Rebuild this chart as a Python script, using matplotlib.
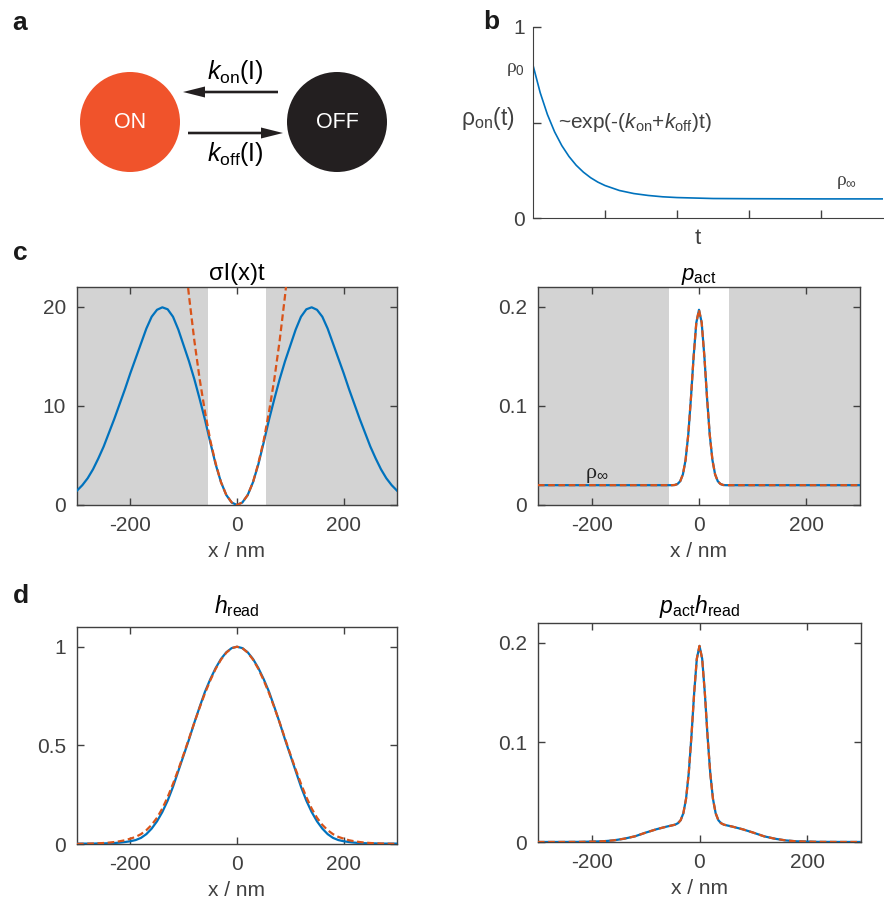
import numpy as np
import matplotlib.pyplot as plt
from matplotlib.patches import Circle

plt.rcParams['font.family'] = ['Liberation Sans', 'DejaVu Sans']
plt.rcParams['mathtext.fontset'] = 'custom'
plt.rcParams['mathtext.rm'] = 'Liberation Sans'
plt.rcParams['mathtext.it'] = 'Liberation Sans:italic'
plt.rcParams['mathtext.sf'] = 'Liberation Sans'
plt.rcParams['axes.unicode_minus'] = False

BLUE = '#0072BD'
RED = '#D95319'
SHADE = '#D3D3D3'
AXC = '#404040'
ON_COL = '#F0532B'
OFF_COL = '#231F20'

# panel b: rho_on(t)
t_b = [0, 0.1, 0.2, 0.3, 0.4, 0.5, 0.6, 0.7, 0.8, 0.9, 1.0, 1.2, 1.4, 1.6, 1.8, 2.0, 2.5, 3.0, 4.0, 4.86]
rho_b = [0.80, 0.656, 0.542, 0.451, 0.379, 0.322, 0.276, 0.240, 0.211, 0.188, 0.170,
         0.144, 0.128, 0.118, 0.111, 0.107, 0.102, 0.101, 0.100, 0.100]

# panel c left: sigma I(x) t, x = -300..300 step 10
x_c = np.arange(-300, 301, 10)
sig_I = [1.45, 2.0, 2.7, 3.6, 4.7, 5.9, 7.3, 8.7, 10.2, 11.7, 13.3, 14.8, 16.3, 17.8, 19.0,
         19.7, 19.95, 19.75, 19.0, 17.7, 16.1, 14.5, 12.7, 10.7, 8.6, 6.3, 4.1, 2.3, 1.0, 0.25,
         0,
         0.25, 1.0, 2.3, 4.1, 6.3, 8.6, 10.7, 12.7, 14.5, 16.1, 17.7, 19.0, 19.75, 19.95, 19.7,
         19.0, 17.8, 16.3, 14.8, 13.3, 11.7, 10.2, 8.7, 7.3, 5.9, 4.7, 3.6, 2.7, 2.0, 1.45]
x_par = np.arange(-100, 101, 10)
sig_I_par = [26.0, 21.1, 16.6, 12.7, 9.4, 6.5, 4.2, 2.3, 1.0, 0.26, 0,
             0.26, 1.0, 2.3, 4.2, 6.5, 9.4, 12.7, 16.6, 21.1, 26.0]

# panel c right: p_act
x_p = [-300, -50, -45, -40, -35, -30, -25, -20, -15, -10, -5, 0,
       5, 10, 15, 20, 25, 30, 35, 40, 45, 50, 300]
p_act = [0.020, 0.020, 0.0202, 0.0212, 0.024, 0.0309, 0.0455, 0.071, 0.108, 0.150, 0.184, 0.197,
         0.184, 0.150, 0.108, 0.071, 0.0455, 0.0309, 0.024, 0.0212, 0.0202, 0.020, 0.020]

# panel d left: h_read (blue) and its gaussian approximation (red), step 10
x_h = np.arange(-300, 301, 10)
h_read = [0.002, 0.002, 0.002, 0.002, 0.003, 0.003, 0.004, 0.005, 0.007, 0.010, 0.014, 0.020,
          0.031, 0.050, 0.078, 0.115, 0.162, 0.22, 0.29, 0.37, 0.45, 0.53, 0.615, 0.695, 0.772,
          0.836, 0.892, 0.938, 0.972, 0.993,
          1.0,
          0.993, 0.972, 0.938, 0.892, 0.836, 0.772, 0.695, 0.615, 0.53, 0.45, 0.37, 0.29, 0.22,
          0.162, 0.115, 0.078, 0.050, 0.031, 0.020, 0.014, 0.010, 0.007, 0.005, 0.004, 0.003,
          0.003, 0.002, 0.002, 0.002, 0.002]
h_gauss = [0.0008, 0.0012, 0.0018, 0.0025, 0.0035, 0.005, 0.007, 0.010, 0.014, 0.019, 0.027,
           0.036, 0.050, 0.070, 0.097, 0.133, 0.18, 0.238, 0.305, 0.378, 0.455, 0.535, 0.615,
           0.692, 0.765, 0.830, 0.888, 0.935, 0.970, 0.993,
           1.0,
           0.993, 0.970, 0.935, 0.888, 0.830, 0.765, 0.692, 0.615, 0.535, 0.455, 0.378, 0.305,
           0.238, 0.18, 0.133, 0.097, 0.070, 0.050, 0.036, 0.027, 0.019, 0.014, 0.010, 0.007,
           0.005, 0.0035, 0.0025, 0.0018, 0.0012, 0.0008]

# panel d right: p_act * h_read
x_ph = [-300, -260, -220, -180, -160, -140, -120, -100, -80, -60, -50, -45, -40, -35, -30, -25,
        -20, -15, -10, -5, 0, 5, 10, 15, 20, 25, 30, 35, 40, 45, 50, 60, 80, 100, 120, 140, 160,
        180, 220, 260, 300]
ph = [0.00004, 0.00006, 0.00016, 0.0007, 0.0016, 0.0033, 0.0057, 0.0094, 0.0128, 0.0156, 0.0168,
      0.0175, 0.0189, 0.0219, 0.0289, 0.0434, 0.069, 0.106, 0.149, 0.184, 0.197, 0.184, 0.149,
      0.106, 0.069, 0.0434, 0.0289, 0.0219, 0.0189, 0.0175, 0.0168, 0.0156, 0.0128, 0.0094,
      0.0057, 0.0033, 0.0016, 0.0007, 0.00016, 0.00006, 0.00004]

W, H = 884, 901
fig = plt.figure(figsize=(W / 100, H / 100), dpi=100)


def box(l, t, r, b):
    return [l / W, 1 - b / H, (r - l) / W, (b - t) / H]


def style(ax):
    for s in ax.spines.values():
        s.set_color(AXC)
        s.set_linewidth(1.0)
    ax.tick_params(direction='in', length=5, width=1, color=AXC, labelcolor=AXC,
                   labelsize=15, top=True, right=True, pad=8)


def curves(ax, x1, y1, x2, y2):
    ax.plot(x1, y1, color=BLUE, lw=1.6, zorder=3)
    ax.plot(x2, y2, color=RED, lw=1.6, ls=(0, (3, 1.6)), zorder=4)


# ---- a: scheme
ax_a = fig.add_axes(box(0, 0, 450, 240))
ax_a.set_xlim(0, 450)
ax_a.set_ylim(240, 0)
ax_a.axis('off')
ax_a.add_patch(Circle((130, 122), 50, color=ON_COL, lw=0))
ax_a.add_patch(Circle((337, 122), 50, color=OFF_COL, lw=0))
ax_a.text(130, 122, 'ON', color='white', fontsize=15.5, ha='center', va='center')
ax_a.text(337, 122, 'OFF', color='white', fontsize=15.5, ha='center', va='center')
ax_a.arrow(278, 92, -95, 0, width=2.6, head_width=11, head_length=22,
           length_includes_head=True, fc=OFF_COL, ec='none')
ax_a.arrow(188, 133, 95, 0, width=2.6, head_width=11, head_length=22,
           length_includes_head=True, fc=OFF_COL, ec='none')
ax_a.text(235, 72, r'$k_{\mathrm{on}}$(I)', fontsize=18, ha='center', va='center')
ax_a.text(235, 154, r'$k_{\mathrm{off}}$(I)', fontsize=18, ha='center', va='center')

# ---- b: relaxation
ax_b = fig.add_axes(box(533, 27, 883, 218))
ax_b.plot(t_b, rho_b, color=BLUE, lw=1.2)
ax_b.set_xlim(0, 4.86)
ax_b.set_ylim(0, 1)
ax_b.spines['top'].set_visible(False)
ax_b.spines['right'].set_visible(False)
for s in ['left', 'bottom']:
    ax_b.spines[s].set_color(AXC)
ax_b.tick_params(direction='in', length=6, width=1, color=AXC, labelcolor=AXC,
                 labelsize=15, pad=6)
ax_b.set_xticks([1, 2, 3, 4])
ax_b.set_xticklabels([])
ax_b.set_yticks([0, 0.5, 1])
ax_b.set_yticklabels(['0', '', '1'])
ax_b.text(-0.25, 0.775, r'ρ$_0$', fontsize=14, color=AXC, ha='center', va='center',
          family=['Liberation Serif', 'DejaVu Serif'])
ax_b.text(-0.63, 0.52, r'ρ$_{\mathrm{on}}$(t)', fontsize=16.5, color=AXC, ha='center', va='center')
ax_b.text(0.35, 0.50, r'~exp(-($k_{\mathrm{on}}$+$k_{\mathrm{off}}$)t)', fontsize=15,
          color=AXC, ha='left', va='center')
ax_b.text(4.36, 0.185, r'ρ$_{\infty}$', fontsize=14, color=AXC, ha='center', va='center',
          family=['Liberation Serif', 'DejaVu Serif'])
ax_b.text(2.29, -0.105, 't', fontsize=16, color=AXC, ha='center', va='center')

# ---- c left
ax1 = fig.add_axes(box(77, 287, 397, 505))
ax1.axvspan(-300, -55, color=SHADE, lw=0, zorder=0)
ax1.axvspan(55, 300, color=SHADE, lw=0, zorder=0)
curves(ax1, x_c, sig_I, x_par, sig_I_par)
ax1.set_xlim(-300, 300)
ax1.set_ylim(0, 22)
ax1.set_xticks([-200, 0, 200])
ax1.set_yticks([0, 10, 20])
style(ax1)
ax1.set_xlabel('x / nm', fontsize=15, color=AXC, labelpad=5)
ax1.set_title('σI(x)t', fontsize=17, pad=5)

# ---- c right
ax2 = fig.add_axes(box(538, 287, 860, 505))
ax2.axvspan(-300, -55, color=SHADE, lw=0, zorder=0)
ax2.axvspan(55, 300, color=SHADE, lw=0, zorder=0)
curves(ax2, x_p, p_act, x_p, p_act)
ax2.set_xlim(-300, 300)
ax2.set_ylim(0, 0.22)
ax2.set_xticks([-200, 0, 200])
ax2.set_yticks([0, 0.1, 0.2])
ax2.set_yticklabels(['0', '0.1', '0.2'])
style(ax2)
ax2.set_xlabel('x / nm', fontsize=15, color=AXC, labelpad=5)
ax2.set_title(r'$p_{\mathrm{act}}$', fontsize=16, pad=5)
ax2.text(-212, 0.027, r'ρ$_{\infty}$', fontsize=16, color='#222222', ha='left', va='baseline',
         family=['Liberation Serif', 'DejaVu Serif'])

# ---- d left
ax3 = fig.add_axes(box(77, 627, 397, 844))
curves(ax3, x_h, h_read, x_h, h_gauss)
ax3.set_xlim(-300, 300)
ax3.set_ylim(0, 1.1)
ax3.set_xticks([-200, 0, 200])
ax3.set_yticks([0, 0.5, 1])
ax3.set_yticklabels(['0', '0.5', '1'])
style(ax3)
ax3.set_xlabel('x / nm', fontsize=15, color=AXC, labelpad=5)
ax3.set_title(r'$h_{\mathrm{read}}$', fontsize=16.5, pad=10)

# ---- d right
ax4 = fig.add_axes(box(538, 623, 861, 842))
curves(ax4, x_ph, ph, x_ph, ph)
ax4.set_xlim(-300, 300)
ax4.set_ylim(0, 0.22)
ax4.set_xticks([-200, 0, 200])
ax4.set_yticks([0, 0.1, 0.2])
ax4.set_yticklabels(['0', '0.1', '0.2'])
style(ax4)
ax4.set_xlabel('x / nm', fontsize=15, color=AXC, labelpad=5)
ax4.set_title(r'$p_{\mathrm{act}}h_{\mathrm{read}}$', fontsize=16.5, pad=7)

# panel letters
for letter, px, py in [('a', 20, 23), ('b', 491, 22), ('c', 20, 253), ('d', 21, 596)]:
    fig.text(px / W, 1 - py / H, letter, fontsize=19, weight='bold', ha='center', va='center',
             color='#1a1a1a')

fig.savefig('out.png', dpi=100)
